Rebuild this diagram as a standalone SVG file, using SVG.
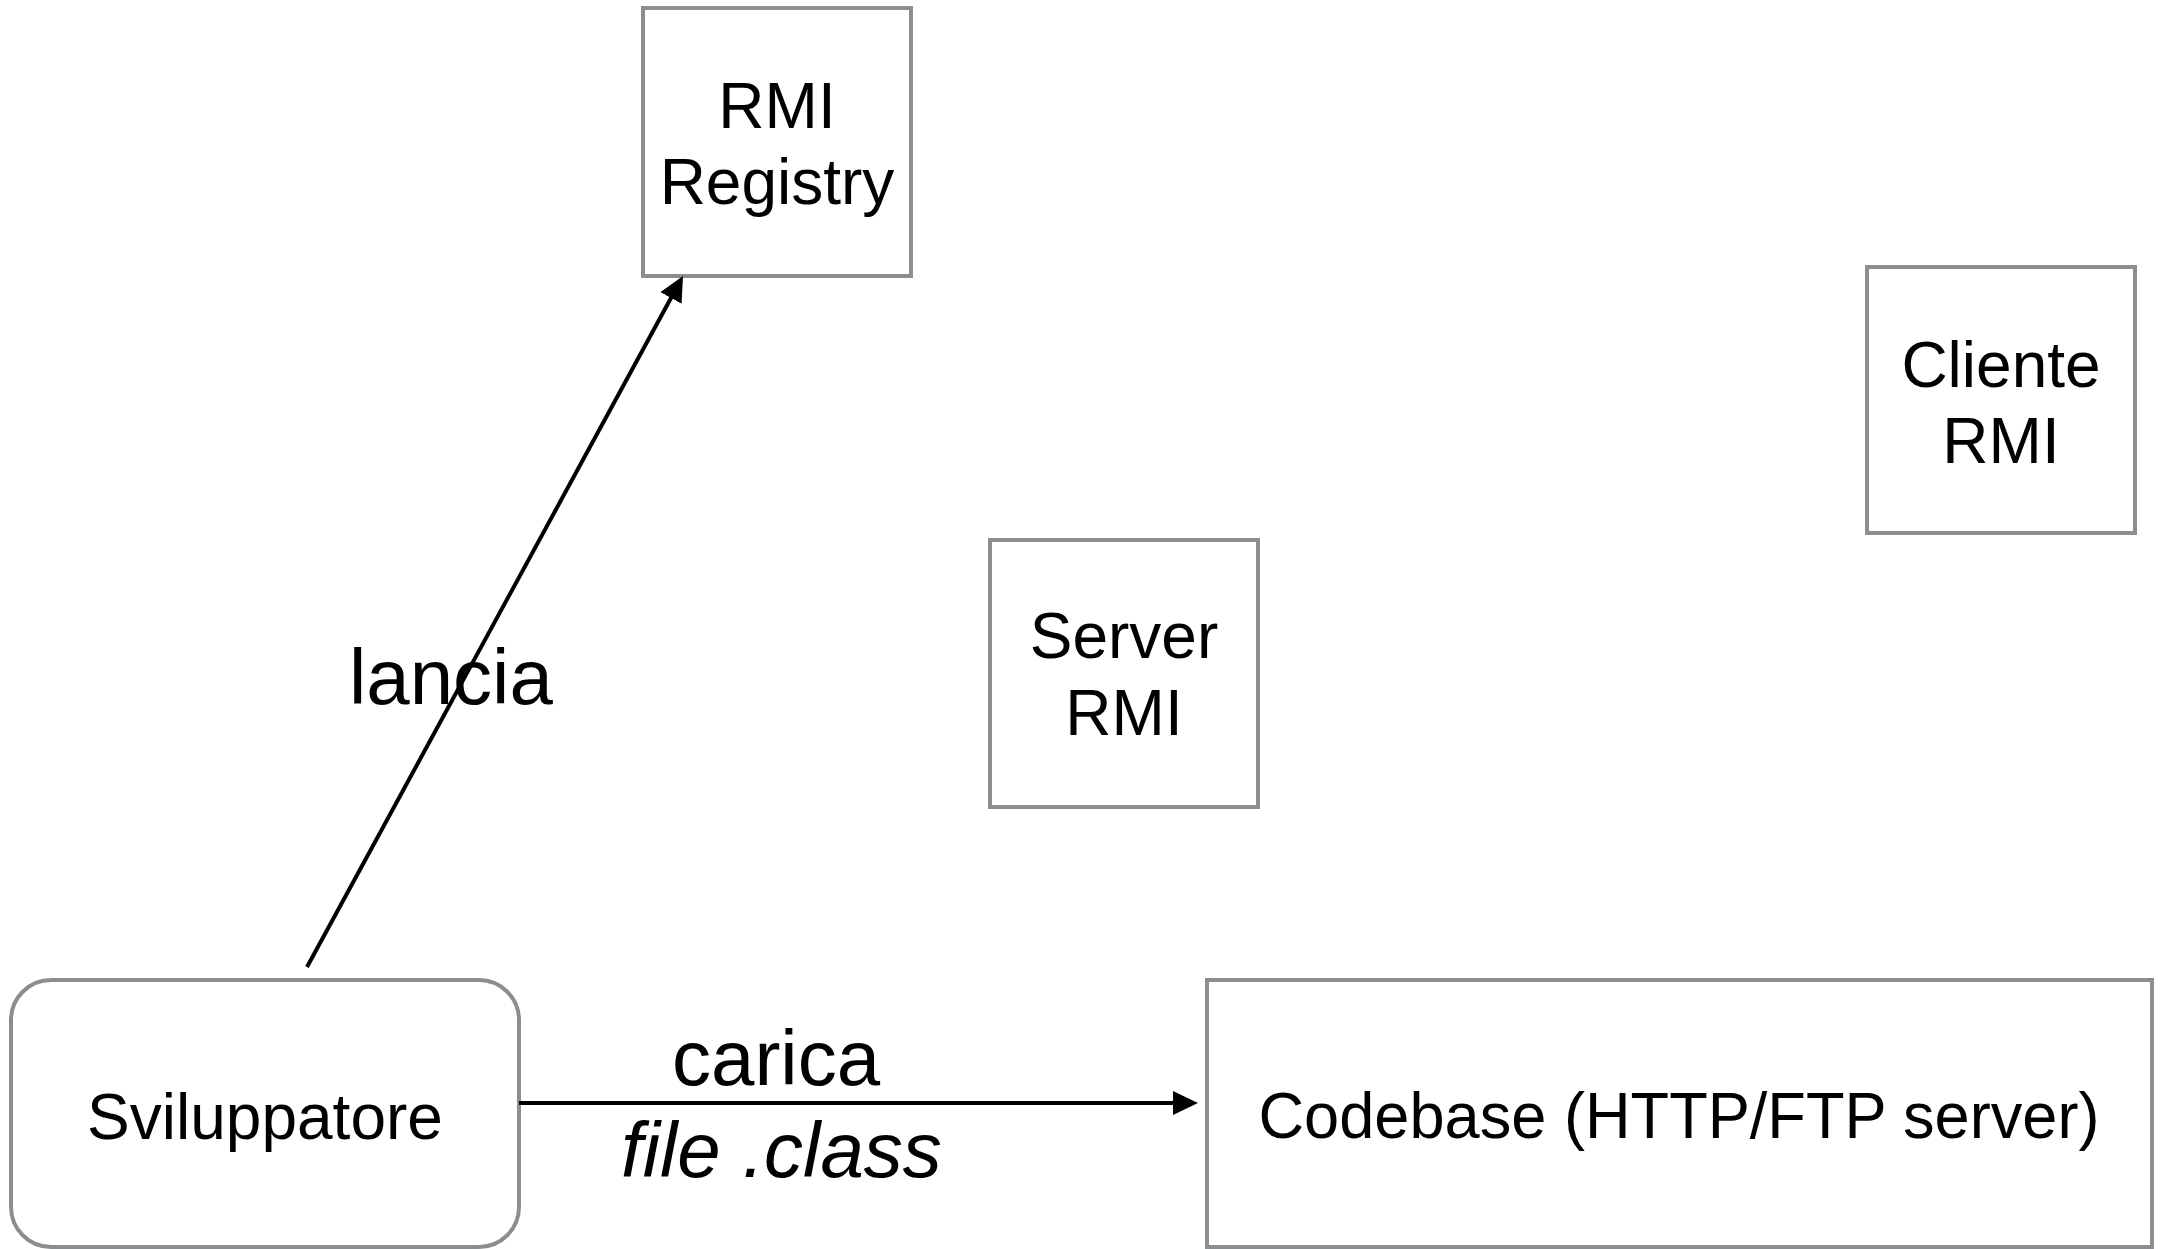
<svg xmlns="http://www.w3.org/2000/svg" width="2160" height="1249" viewBox="0 0 2160 1249">
<style>
.box{fill:#fff;stroke:#8a8d91;stroke-width:4}
.lbl{font-family:"Liberation Sans",Arial,sans-serif;font-size:64px;fill:#000;text-anchor:middle}
.elbl{font-family:"Liberation Sans",Arial,sans-serif;font-size:78px;fill:#000}
.conn{stroke:#000;stroke-width:4;fill:none}
</style>
<defs>
<marker id="ah" markerUnits="userSpaceOnUse" markerWidth="30" markerHeight="30" refX="15" refY="12" orient="auto">
<path d="M0,0 L25,12 L0,24 z" fill="#000"/>
</marker>
</defs>
<rect width="2160" height="1249" fill="#fff"/>
<g id="registry">
<rect class="box" x="643" y="8" width="268" height="268"/>
<text class="lbl" x="777" y="128">RMI</text>
<text class="lbl" x="777" y="204">Registry</text>
</g>
<g id="cliente">
<rect class="box" x="1867" y="267" width="268" height="266"/>
<text class="lbl" x="2001" y="387">Cliente</text>
<text class="lbl" x="2001" y="463">RMI</text>
</g>
<g id="server">
<rect class="box" x="990" y="540" width="268" height="267"/>
<text class="lbl" x="1124" y="658">Server</text>
<text class="lbl" x="1124" y="735">RMI</text>
</g>
<g id="sviluppatore">
<rect class="box" x="11" y="980" width="508" height="267" rx="40" ry="40"/>
<text class="lbl" x="265" y="1139">Sviluppatore</text>
</g>
<g id="codebase">
<rect class="box" x="1207" y="980" width="945" height="267"/>
<text class="lbl" x="1679" y="1138" textLength="841" lengthAdjust="spacingAndGlyphs">Codebase (HTTP/FTP server)</text>
</g>
<g id="connectors">
<line class="conn" x1="307" y1="967" x2="678.2" y2="284.8" marker-end="url(#ah)"/>
<text class="elbl" x="349" y="704">lancia</text>
<line class="conn" x1="519" y1="1103" x2="1188" y2="1103" marker-end="url(#ah)"/>
<text class="elbl" x="672" y="1085">carica</text>
<text class="elbl" x="621" y="1177" font-style="italic">file .class</text>
</g>
</svg>
